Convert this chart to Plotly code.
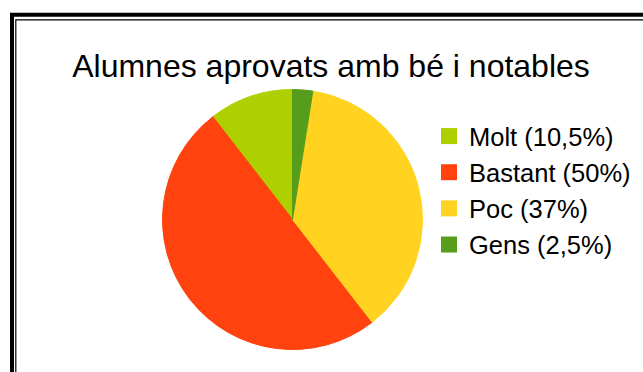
import plotly.graph_objects as go

# Share of students passing with "bé" and "notable" grades
categories = ["Molt", "Bastant", "Poc", "Gens"]
values = [10.5, 50, 37, 2.5]
pct_labels = ["10,5%", "50%", "37%", "2,5%"]
colors = ["#aecf00", "#ff420e", "#ffd320", "#579d1c"]

W, H = 643, 372


def px_x(v):
    return v / W


def px_y(v):
    return 1 - v / H


legend_names = [f"{c} ({p})" for c, p in zip(categories, pct_labels)]

# First slice goes counter-clockwise from 12 o'clock
first_share = values[0] / sum(values) * 360

fig = go.Figure(
    go.Pie(
        labels=legend_names,
        values=values,
        sort=False,
        direction="counterclockwise",
        rotation=-first_share,
        textinfo="none",
        hoverinfo="label",
        showlegend=False,
        marker=dict(colors=colors, line=dict(color=colors, width=1)),
        domain=dict(x=[px_x(162.5), px_x(422.5)], y=[px_y(349.5), px_y(89.5)]),
    )
)

# Legend entries with square swatches
for name, col in zip(legend_names, colors):
    fig.add_trace(go.Scatter(
        x=[None], y=[None], mode="markers", name=name,
        marker=dict(symbol="square", size=16, color=col, line=dict(width=0)),
    ))

# Double frame around the chart
fig.add_shape(type="rect", xref="paper", yref="paper",
              x0=px_x(12), y0=px_y(14.7), x1=px_x(720), y1=px_y(430),
              line=dict(color="black", width=4), fillcolor="rgba(0,0,0,0)")
fig.add_shape(type="rect", xref="paper", yref="paper",
              x0=px_x(15.8), y0=px_y(19.8), x1=px_x(720), y1=px_y(430),
              line=dict(color="black", width=1.2), fillcolor="rgba(0,0,0,0)")

fig.update_layout(
    width=W,
    height=H,
    margin=dict(l=0, r=0, t=0, b=0),
    paper_bgcolor="white",
    plot_bgcolor="white",
    xaxis=dict(visible=False),
    yaxis=dict(visible=False),
    font=dict(family="Liberation Sans, Arial, sans-serif", color="black"),
    title=dict(
        text="Alumnes aprovats amb bé i notables",
        font=dict(size=32, color="black"),
        x=px_x(331), xanchor="center", xref="paper",
        y=px_y(66), yanchor="middle", yref="paper",
    ),
    legend=dict(
        x=px_x(429), xanchor="left",
        y=px_y(113), yanchor="top",
        font=dict(size=25.5, color="black"),
        bgcolor="rgba(0,0,0,0)",
        traceorder="normal",
    ),
)

fig.write_html("out.html")
